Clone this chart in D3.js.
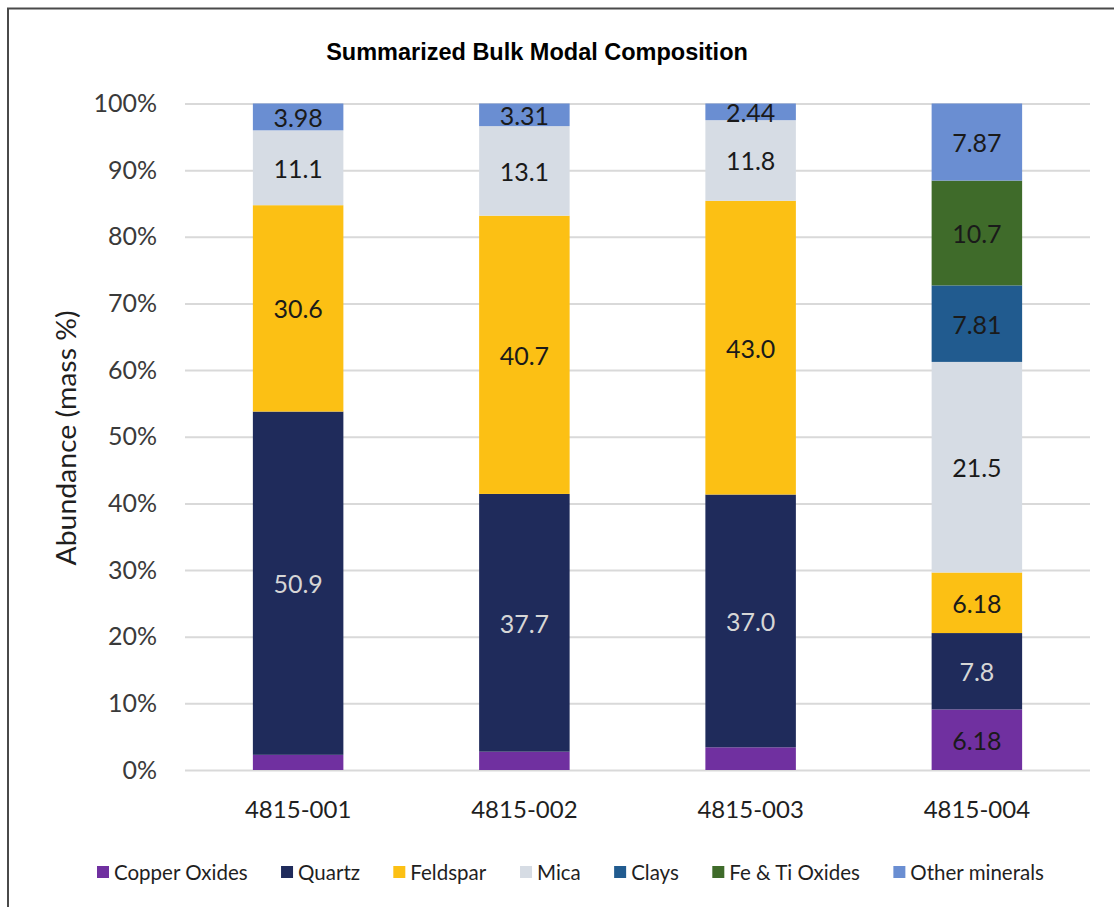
<!DOCTYPE html>
<html>
<head>
<meta charset="utf-8">
<script src="https://cdn.jsdelivr.net/npm/d3@7"></script>
<style>
  html, body { margin: 0; padding: 0; background: #fff; }
  svg { display: block; }
  text { font-family: Lato, "Open Sans", sans-serif; }
</style>
</head>
<body>
<svg id="chart" width="1114" height="907"></svg>
<script>
// Samples and mineral groups
const samples = ["4815-001", "4815-002", "4815-003", "4815-004"];
const minerals = ["Copper Oxides", "Quartz", "Feldspar", "Mica", "Clays", "Fe & Ti Oxides", "Other minerals"];
const colors = ["#7030A0", "#1F2B5B", "#FCC014", "#D6DCE4", "#215B8F", "#3F6B2A", "#6A8ED2"];

// Mass % per mineral group, one entry per sample (kept as the printed figures)
const copperOxides  = ["2.25", "2.68", "3.32", "6.18"];
const quartz        = ["50.9", "37.7", "37.0", "7.8"];
const feldspar      = ["30.6", "40.7", "43.0", "6.18"];
const mica          = ["11.1", "13.1", "11.8", "21.5"];
const clays         = ["0", "0", "0", "7.81"];
const feTiOxides    = ["0", "0", "0", "10.7"];
const otherMinerals = ["3.98", "3.31", "2.44", "7.87"];
// Which segments carry a value label
const copperLabelled = [false, false, false, true];

const yTicks = [0, 0.1, 0.2, 0.3, 0.4, 0.5, 0.6, 0.7, 0.8, 0.9, 1.0];

const seriesText = [copperOxides, quartz, feldspar, mica, clays, feTiOxides, otherMinerals];
const rows = samples.map((s, i) => {
  const r = { sample: s };
  minerals.forEach((m, k) => { r[m] = +seriesText[k][i]; });
  return r;
});

const svg = d3.select("#chart");

// Outer frame (left and top edges)
svg.append("path")
  .attr("d", "M8,907 L8,8.5 L1114,8.5")
  .attr("fill", "none").attr("stroke", "#4a4a4a").attr("stroke-width", 2);

const plot = { left: 185, right: 1090, top: 103.5, bottom: 770 };

const x = d3.scaleBand().domain(samples)
  .range([plot.left, plot.right]).paddingInner(0.6).paddingOuter(0.3);
const y = d3.scaleLinear().domain([0, 1]).range([plot.bottom, plot.top]);

const stack = d3.stack().keys(minerals).offset(d3.stackOffsetExpand);
const layers = stack(rows);

// Title
svg.append("text")
  .attr("x", 537).attr("y", 52)
  .attr("text-anchor", "middle").attr("dominant-baseline", "central")
  .style("font-family", "'Liberation Sans', Arial, sans-serif")
  .style("font-weight", "bold").style("font-size", "23.5px")
  .attr("fill", "#000")
  .text("Summarized Bulk Modal Composition");

// Gridlines and y axis labels
const yAxis = d3.axisLeft(y).tickValues(yTicks)
  .tickFormat(d3.format(".0%"))
  .tickSize(-(plot.right - plot.left)).tickPadding(28);
const gy = svg.append("g").attr("transform", `translate(${plot.left},0)`).call(yAxis);
gy.select(".domain").remove();
gy.selectAll(".tick line").attr("stroke", "#d9d9d9").attr("stroke-width", 2);
gy.selectAll(".tick text")
  .attr("fill", "#3a3a3a").style("font-size", "25px")
  .style("font-family", "Lato, sans-serif");

// Y axis title
svg.append("text")
  .attr("transform", "translate(66,438) rotate(-90)")
  .attr("text-anchor", "middle").attr("dominant-baseline", "central")
  .style("font-size", "26px").attr("fill", "#1f1f1f")
  .attr("textLength", 255).attr("lengthAdjust", "spacingAndGlyphs")
  .text("Abundance (mass %)");

// Stacked bars
const gBars = svg.append("g");
layers.forEach((layer, k) => {
  gBars.append("g").attr("fill", colors[k])
    .selectAll("rect").data(layer).join("rect")
    .attr("x", d => x(d.data.sample))
    .attr("width", x.bandwidth())
    .attr("y", d => y(d[1]))
    .attr("height", d => Math.max(0, y(d[0]) - y(d[1])));
});

// Segment value labels
const gLabels = svg.append("g");
layers.forEach((layer, k) => {
  layer.forEach((d, i) => {
    const txt = seriesText[k][i];
    if (+txt === 0) return;
    if (k === 0 && !copperLabelled[i]) return;
    gLabels.append("text")
      .attr("x", x(d.data.sample) + x.bandwidth() / 2)
      .attr("y", (y(d[0]) + y(d[1])) / 2)
      .attr("text-anchor", "middle").attr("dominant-baseline", "central")
      .style("font-size", "25px")
      .attr("fill", k === 1 ? "#d6d6d6" : "#1a1a1a")
      .text(txt);
  });
});

// Category labels
const xAxis = d3.axisBottom(x).tickSize(0).tickPadding(0);
const gx = svg.append("g").attr("transform", `translate(0,${plot.bottom})`).call(xAxis);
gx.select(".domain").remove();
gx.selectAll(".tick text")
  .attr("y", 38).attr("dy", null).attr("dominant-baseline", "central")
  .attr("fill", "#1f1f1f").style("font-size", "24px")
  .style("font-family", "Lato, sans-serif");

// Legend
const legend = svg.append("g");
const items = legend.selectAll("g").data(minerals).join("g");
items.append("rect")
  .attr("width", 12).attr("height", 12).attr("y", -6)
  .attr("fill", (d, k) => colors[k]);
items.append("text")
  .attr("x", 17).attr("dominant-baseline", "central")
  .style("font-size", "20.5px").attr("fill", "#1f1f1f")
  .text(d => d);
const widths = items.nodes().map(n => n.getBBox().width);
const legendStart = 97, legendEnd = 1044;
const gap = (legendEnd - legendStart - d3.sum(widths)) / (minerals.length - 1);
let cx = legendStart;
items.attr("transform", (d, k) => {
  const t = `translate(${cx},872)`;
  cx += widths[k] + gap;
  return t;
});
</script>
</body>
</html>
